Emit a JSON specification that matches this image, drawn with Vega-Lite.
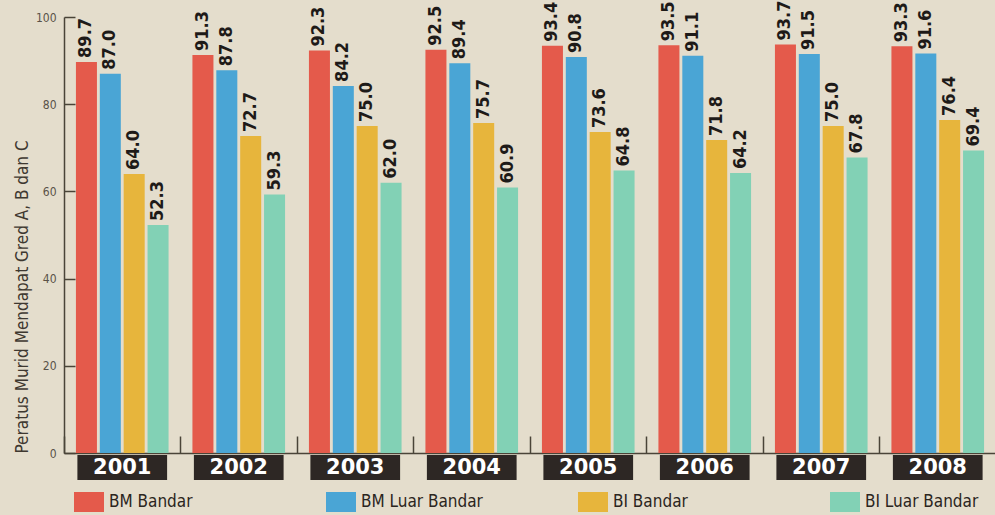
{
  "$schema": "https://vega.github.io/schema/vega-lite/v6.json",
  "padding": {"left": 13, "top": 0, "right": 0, "bottom": 6},
  "background": "#e4ddcc",
  "config": {
    "view": {"stroke": null},
    "font": "DejaVu Sans Condensed, sans-serif"
  },
  "datasets": {
    "bars": [
      {"year": "2001", "series": "BM Bandar", "value": 89.7},
      {"year": "2001", "series": "BM Luar Bandar", "value": 87.0},
      {"year": "2001", "series": "BI Bandar", "value": 64.0},
      {"year": "2001", "series": "BI Luar Bandar", "value": 52.3},
      {"year": "2002", "series": "BM Bandar", "value": 91.3},
      {"year": "2002", "series": "BM Luar Bandar", "value": 87.8},
      {"year": "2002", "series": "BI Bandar", "value": 72.7},
      {"year": "2002", "series": "BI Luar Bandar", "value": 59.3},
      {"year": "2003", "series": "BM Bandar", "value": 92.3},
      {"year": "2003", "series": "BM Luar Bandar", "value": 84.2},
      {"year": "2003", "series": "BI Bandar", "value": 75.0},
      {"year": "2003", "series": "BI Luar Bandar", "value": 62.0},
      {"year": "2004", "series": "BM Bandar", "value": 92.5},
      {"year": "2004", "series": "BM Luar Bandar", "value": 89.4},
      {"year": "2004", "series": "BI Bandar", "value": 75.7},
      {"year": "2004", "series": "BI Luar Bandar", "value": 60.9},
      {"year": "2005", "series": "BM Bandar", "value": 93.4},
      {"year": "2005", "series": "BM Luar Bandar", "value": 90.8},
      {"year": "2005", "series": "BI Bandar", "value": 73.6},
      {"year": "2005", "series": "BI Luar Bandar", "value": 64.8},
      {"year": "2006", "series": "BM Bandar", "value": 93.5},
      {"year": "2006", "series": "BM Luar Bandar", "value": 91.1},
      {"year": "2006", "series": "BI Bandar", "value": 71.8},
      {"year": "2006", "series": "BI Luar Bandar", "value": 64.2},
      {"year": "2007", "series": "BM Bandar", "value": 93.7},
      {"year": "2007", "series": "BM Luar Bandar", "value": 91.5},
      {"year": "2007", "series": "BI Bandar", "value": 75.0},
      {"year": "2007", "series": "BI Luar Bandar", "value": 67.8},
      {"year": "2008", "series": "BM Bandar", "value": 93.3},
      {"year": "2008", "series": "BM Luar Bandar", "value": 91.6},
      {"year": "2008", "series": "BI Bandar", "value": 76.4},
      {"year": "2008", "series": "BI Luar Bandar", "value": 69.4}
    ]
  },
  "data": {"name": "bars"},
  "spacing": 2,
  "bounds": "flush",
  "vconcat": [
    {
      "width": 932,
      "height": 436,
      "encoding": {
        "x": {
          "field": "year", "type": "nominal",
          "scale": {"paddingInner": 0, "paddingOuter": 0},
          "axis": {
            "title": null, "labels": false, "bandPosition": 0,
            "tickSize": -17, "tickColor": "#4a4438", "tickWidth": 1.5,
            "domainColor": "#4a4438", "domainWidth": 1.5
          }
        },
        "xOffset": {
          "field": "series", "type": "nominal",
          "scale": {"domain": ["BM Bandar", "BM Luar Bandar", "BI Bandar", "BI Luar Bandar"], "paddingInner": 0.12, "paddingOuter": 0.5}
        },
        "y": {
          "field": "value", "type": "quantitative",
          "scale": {"domain": [0, 100], "nice": false},
          "axis": {
            "title": "Peratus Murid Mendapat Gred A, B dan C",
            "titleAnchor": "start", "titleFontSize": 17, "titleFontWeight": "normal",
            "titleColor": "#3e3830", "titlePadding": 4,
            "values": [0, 20, 40, 60, 80, 100], "grid": false,
            "tickSize": -11, "tickColor": "#4a4438", "tickWidth": 1.5,
            "domainColor": "#4a4438", "domainWidth": 1.5, "zindex": 1,
            "labelFontSize": 12, "labelColor": "#5a5248", "labelPadding": 19
          }
        }
      },
      "layer": [
        {
          "mark": {"type": "bar"},
          "encoding": {
            "color": {
              "field": "series", "type": "nominal",
              "scale": {
                "domain": ["BM Bandar", "BM Luar Bandar", "BI Bandar", "BI Luar Bandar"],
                "range": ["#e45a4b", "#4aa5d5", "#e7b53c", "#82d1b5"]
              },
              "legend": {
                "title": null, "orient": "none", "legendX": 15, "legendY": 475,
                "direction": "horizontal", "columns": 4, "gridAlign": "all",
                "columnPadding": 95,
                "symbolType": "M-1.5,-1h3v2h-3z", "symbolSize": 400,
                "symbolStrokeWidth": 0, "symbolOpacity": 1,
                "labelFontSize": 17, "labelColor": "#2b2520", "labelOffset": 10,
                "labelLimit": 300
              }
            }
          }
        },
        {
          "mark": {
            "type": "text", "angle": 270, "align": "left", "baseline": "middle",
            "dx": 4, "fontWeight": "bold", "fontSize": 18, "color": "#1e1a18"
          },
          "encoding": {
            "text": {"field": "value", "type": "quantitative", "format": ".1f"}
          }
        }
      ]
    },
    {
      "width": 932,
      "height": 25,
      "transform": [{"aggregate": [], "groupby": ["year"]}],
      "encoding": {
        "x": {
          "field": "year", "type": "nominal",
          "scale": {"paddingInner": 0, "paddingOuter": 0},
          "axis": null
        }
      },
      "layer": [
        {"mark": {"type": "bar", "width": {"band": 0.77}, "color": "#2d2724"}},
        {
          "mark": {
            "type": "text", "color": "#ffffff", "fontWeight": "bold",
            "fontSize": 21, "font": "DejaVu Sans", "baseline": "middle"
          },
          "encoding": {"text": {"field": "year"}}
        }
      ]
    }
  ]
}
